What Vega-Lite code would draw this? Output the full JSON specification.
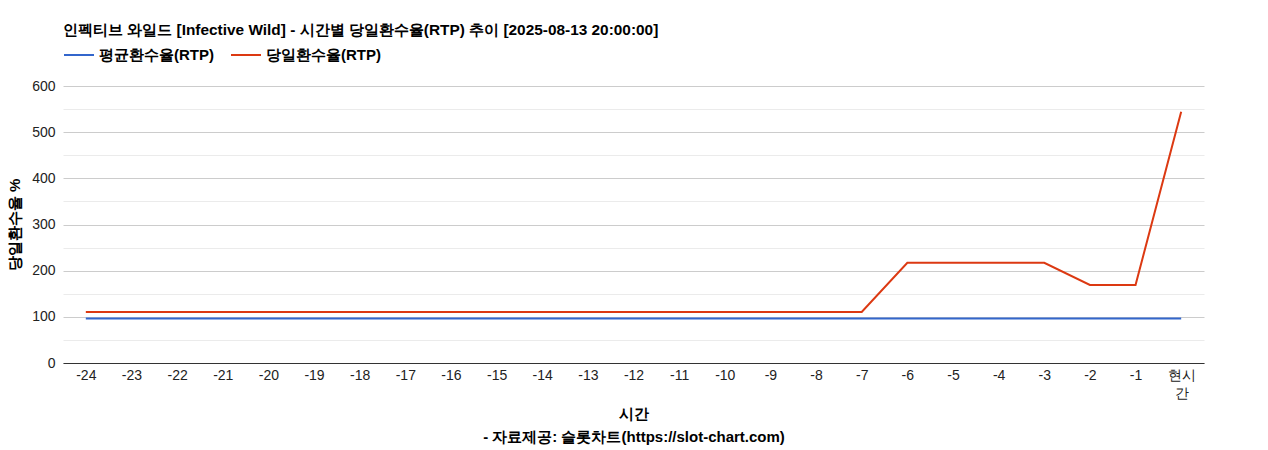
{
  "$schema": "https://vega.github.io/schema/vega-lite/v6.json",
  "width": 1141,
  "height": 277,
  "autosize": {"type": "none"},
  "padding": {"left": 63, "top": 86, "right": 64, "bottom": 87},
  "background": "white",
  "title": {
    "text": "인펙티브 와일드 [Infective Wild] - 시간별 당일환수율(RTP) 추이 [2025-08-13 20:00:00]",
    "anchor": "start",
    "frame": "group",
    "font": "Liberation Sans",
    "fontSize": 15.4,
    "fontWeight": "bold",
    "color": "#000000",
    "offset": 1
  },
  "config": {
    "view": {"stroke": null},
    "font": "Liberation Sans",
    "axis": {"labelFont": "Liberation Sans", "titleFont": "Liberation Sans"}
  },
  "data": {
    "values": [
      {"hour": "-24", "series": "평균환수율(RTP)", "rtp": 96.5},
      {"hour": "-23", "series": "평균환수율(RTP)", "rtp": 96.5},
      {"hour": "-22", "series": "평균환수율(RTP)", "rtp": 96.5},
      {"hour": "-21", "series": "평균환수율(RTP)", "rtp": 96.5},
      {"hour": "-20", "series": "평균환수율(RTP)", "rtp": 96.5},
      {"hour": "-19", "series": "평균환수율(RTP)", "rtp": 96.5},
      {"hour": "-18", "series": "평균환수율(RTP)", "rtp": 96.5},
      {"hour": "-17", "series": "평균환수율(RTP)", "rtp": 96.5},
      {"hour": "-16", "series": "평균환수율(RTP)", "rtp": 96.5},
      {"hour": "-15", "series": "평균환수율(RTP)", "rtp": 96.5},
      {"hour": "-14", "series": "평균환수율(RTP)", "rtp": 96.5},
      {"hour": "-13", "series": "평균환수율(RTP)", "rtp": 96.5},
      {"hour": "-12", "series": "평균환수율(RTP)", "rtp": 96.5},
      {"hour": "-11", "series": "평균환수율(RTP)", "rtp": 96.5},
      {"hour": "-10", "series": "평균환수율(RTP)", "rtp": 96.5},
      {"hour": "-9", "series": "평균환수율(RTP)", "rtp": 96.5},
      {"hour": "-8", "series": "평균환수율(RTP)", "rtp": 96.5},
      {"hour": "-7", "series": "평균환수율(RTP)", "rtp": 96.5},
      {"hour": "-6", "series": "평균환수율(RTP)", "rtp": 96.5},
      {"hour": "-5", "series": "평균환수율(RTP)", "rtp": 96.5},
      {"hour": "-4", "series": "평균환수율(RTP)", "rtp": 96.5},
      {"hour": "-3", "series": "평균환수율(RTP)", "rtp": 96.5},
      {"hour": "-2", "series": "평균환수율(RTP)", "rtp": 96.5},
      {"hour": "-1", "series": "평균환수율(RTP)", "rtp": 96.5},
      {"hour": "현시간", "series": "평균환수율(RTP)", "rtp": 96.5},
      {"hour": "-24", "series": "당일환수율(RTP)", "rtp": 110.5},
      {"hour": "-23", "series": "당일환수율(RTP)", "rtp": 110.5},
      {"hour": "-22", "series": "당일환수율(RTP)", "rtp": 110.5},
      {"hour": "-21", "series": "당일환수율(RTP)", "rtp": 110.5},
      {"hour": "-20", "series": "당일환수율(RTP)", "rtp": 110.5},
      {"hour": "-19", "series": "당일환수율(RTP)", "rtp": 110.5},
      {"hour": "-18", "series": "당일환수율(RTP)", "rtp": 110.5},
      {"hour": "-17", "series": "당일환수율(RTP)", "rtp": 110.5},
      {"hour": "-16", "series": "당일환수율(RTP)", "rtp": 110.5},
      {"hour": "-15", "series": "당일환수율(RTP)", "rtp": 110.5},
      {"hour": "-14", "series": "당일환수율(RTP)", "rtp": 110.5},
      {"hour": "-13", "series": "당일환수율(RTP)", "rtp": 110.5},
      {"hour": "-12", "series": "당일환수율(RTP)", "rtp": 110.5},
      {"hour": "-11", "series": "당일환수율(RTP)", "rtp": 110.5},
      {"hour": "-10", "series": "당일환수율(RTP)", "rtp": 110.5},
      {"hour": "-9", "series": "당일환수율(RTP)", "rtp": 110.5},
      {"hour": "-8", "series": "당일환수율(RTP)", "rtp": 110.5},
      {"hour": "-7", "series": "당일환수율(RTP)", "rtp": 110.5},
      {"hour": "-6", "series": "당일환수율(RTP)", "rtp": 217},
      {"hour": "-5", "series": "당일환수율(RTP)", "rtp": 217},
      {"hour": "-4", "series": "당일환수율(RTP)", "rtp": 217},
      {"hour": "-3", "series": "당일환수율(RTP)", "rtp": 217},
      {"hour": "-2", "series": "당일환수율(RTP)", "rtp": 169},
      {"hour": "-1", "series": "당일환수율(RTP)", "rtp": 169},
      {"hour": "현시간", "series": "당일환수율(RTP)", "rtp": 544}
    ]
  },
  "mark": {"type": "line", "strokeWidth": 2},
  "encoding": {
    "x": {
      "field": "hour",
      "type": "ordinal",
      "sort": null,
      "scale": {"type": "point", "padding": 0.5},
      "axis": {
        "title": ["시간", "- 자료제공: 슬롯차트(https://slot-chart.com)"],
        "titleFontSize": 15,
        "titleFontWeight": "bold",
        "titleColor": "#000000",
        "titlePadding": 6,
        "titleLineHeight": 23,
        "labelAngle": 0,
        "labelFontSize": 14,
        "labelColor": "#222222",
        "labelPadding": 5,
        "labelExpr": "datum.value === '현시간' ? ['현시', '간'] : datum.label",
        "labelLineHeight": 18,
        "ticks": false,
        "domainColor": "#333333",
        "grid": false
      }
    },
    "y": {
      "field": "rtp",
      "type": "quantitative",
      "scale": {"domain": [0, 600], "nice": false},
      "axis": {
        "title": "당일환수율 %",
        "titleFontSize": 15,
        "titleFontWeight": "bold",
        "titleColor": "#000000",
        "titleX": -49,
        "titleBaseline": "middle",
        "values": [0, 50, 100, 150, 200, 250, 300, 350, 400, 450, 500, 550, 600],
        "labelExpr": "datum.value % 100 === 0 ? datum.label : ''",
        "labelFontSize": 14,
        "labelColor": "#222222",
        "labelPadding": 8,
        "ticks": false,
        "domain": false,
        "gridColor": {"condition": {"test": "datum.value % 100 === 0", "value": "#cccccc"}, "value": "#ebebeb"}
      }
    },
    "color": {
      "field": "series",
      "type": "nominal",
      "sort": ["평균환수율(RTP)", "당일환수율(RTP)"],
      "scale": {"domain": ["평균환수율(RTP)", "당일환수율(RTP)"], "range": ["#3366cc", "#dc3912"]},
      "legend": {
        "title": null,
        "orient": "none",
        "direction": "horizontal",
        "legendX": 0,
        "legendY": -47,
        "symbolType": "stroke",
        "symbolStrokeWidth": 2,
        "symbolSize": 900,
        "labelFontSize": 15,
        "labelFontWeight": "bold",
        "labelColor": "#000000",
        "labelOffset": 4,
        "columnPadding": 13
      }
    }
  }
}
